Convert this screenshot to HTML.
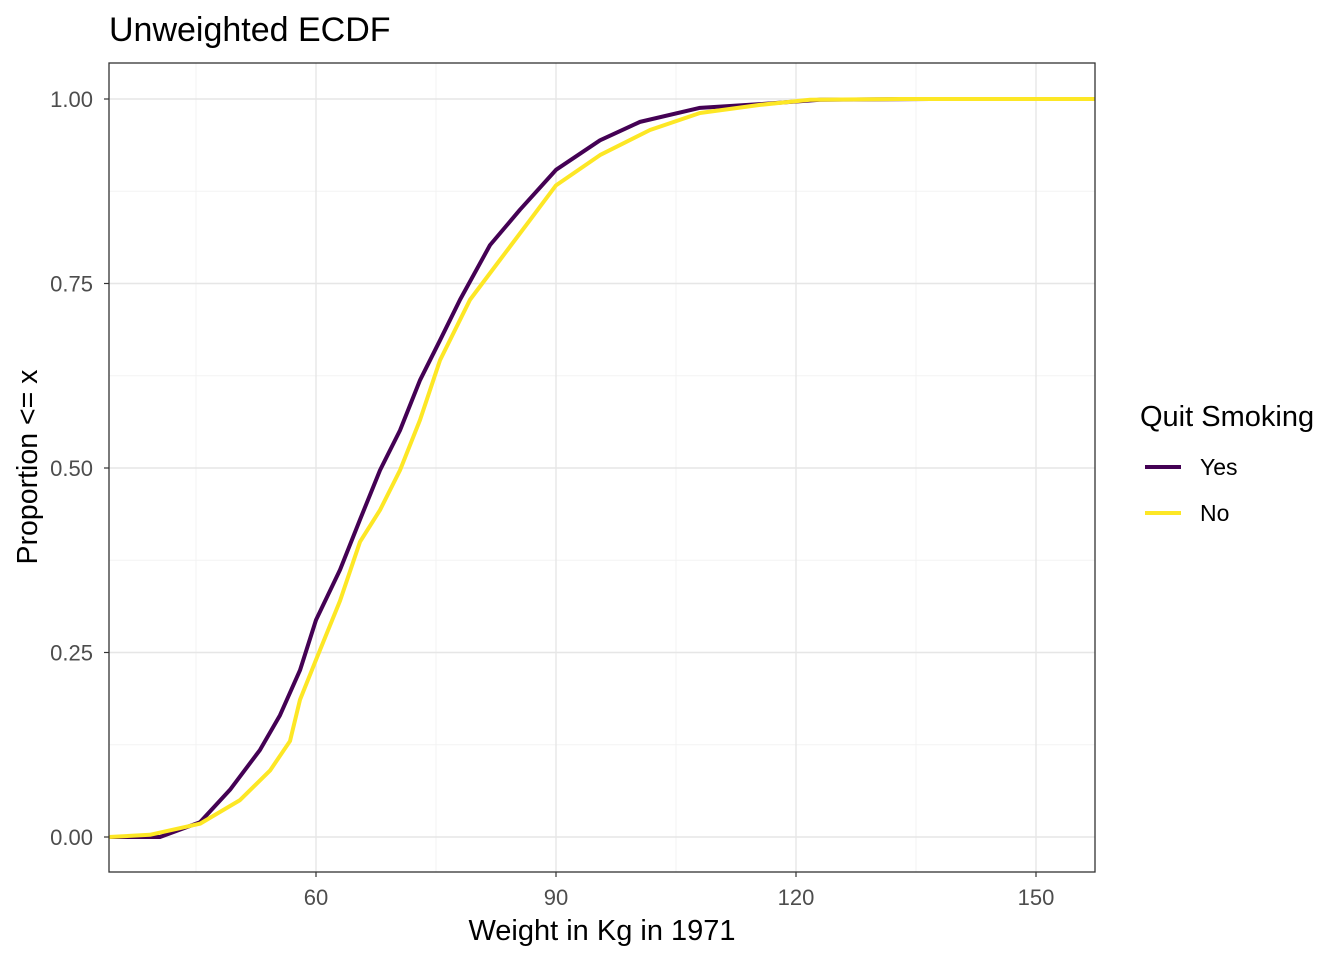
<!DOCTYPE html>
<html><head><meta charset="utf-8"><style>
body{margin:0;background:#fff;font-family:"Liberation Sans",Arial,sans-serif}
</style></head><body>
<svg id="chart" width="1344" height="960" xmlns="http://www.w3.org/2000/svg" font-family="Liberation Sans, Arial, sans-serif">
<text x="109" y="41" font-size="34" fill="#000">Unweighted ECDF</text>
<g id="grid"></g>
<g id="series"></g>
<rect x="109" y="63" width="986" height="809" fill="none" stroke="#333" stroke-width="1.3"/>
<g id="ticks"></g>
<text x="602" y="940" font-size="29" text-anchor="middle" fill="#000">Weight in Kg in 1971</text>
<text transform="translate(37,467) rotate(-90)" font-size="28.5" text-anchor="middle" fill="#000">Proportion &lt;= x</text>
<g>
<text x="1140" y="426" font-size="29" fill="#000">Quit Smoking</text>
<g><line x1="1145" y1="467" x2="1181" y2="467" stroke="#440154" stroke-width="4"/><text x="1200" y="475" font-size="23" fill="#000">Yes</text></g>
<g><line x1="1145" y1="513" x2="1181" y2="513" stroke="#FDE725" stroke-width="4"/><text x="1200" y="521" font-size="23" fill="#000">No</text></g>
</g>
</svg>
<script>
const xTicks=[60,90,120,150];
const xMinor=[45,75,105,135];
const yTicks=[0,0.25,0.5,0.75,1];
const yTickLabels=["0.00","0.25","0.50","0.75","1.00"];
const yMinor=[0.125,0.375,0.625,0.875];
const yesWeights=[40.5,45.5,49.25,53,55.5,58,60,63,65.5,68,70.5,73,75.5,78,81.75,85.5,90,95.5,100.5,108,115.5,123,136.75];
const yesProps=[0,0.02,0.064,0.118,0.165,0.226,0.294,0.362,0.43,0.497,0.551,0.619,0.673,0.728,0.802,0.85,0.904,0.944,0.969,0.988,0.993,0.999,1];
const noWeights=[39.25,45.5,50.5,54.25,56.75,58,60,63,65.5,68,70.5,73,75.5,79.25,83,86.75,90,95.5,101.75,108,115.5,121.75,133];
const noProps=[0.003,0.018,0.05,0.09,0.13,0.186,0.24,0.32,0.4,0.443,0.497,0.565,0.646,0.728,0.782,0.836,0.883,0.924,0.958,0.981,0.992,0.999,1];
const X0=109,X1=1095,Y0=63,Y1=872;
const xs=v=>316+(v-60)*8;
const ys=p=>837-p*738;
const NS="http://www.w3.org/2000/svg";
const grid=document.getElementById('grid'),ticks=document.getElementById('ticks'),series=document.getElementById('series');
function ln(parent,x1,y1,x2,y2,stroke,w){const l=document.createElementNS(NS,'line');l.setAttribute('x1',x1);l.setAttribute('y1',y1);l.setAttribute('x2',x2);l.setAttribute('y2',y2);l.setAttribute('stroke',stroke);l.setAttribute('stroke-width',w);parent.appendChild(l);return l;}
function tx(parent,x,y,s,anchor){const t=document.createElementNS(NS,'text');t.setAttribute('x',x);t.setAttribute('y',y);t.setAttribute('font-size','22');t.setAttribute('fill','#4d4d4d');t.setAttribute('text-anchor',anchor);t.textContent=s;parent.appendChild(t);return t;}
yMinor.forEach(v=>{const l=ln(grid,X0,ys(v),X1,ys(v),'#f3f3f3',1);

});
xMinor.forEach(v=>{const l=ln(grid,xs(v),Y0,xs(v),Y1,'#f3f3f3',1);

});
yTicks.forEach((v,i)=>{const l=ln(grid,X0,ys(v),X1,ys(v),'#e6e6e6',1.4);


ln(ticks,X0-5,ys(v),X0,ys(v),'#333',1.2);
const t=tx(ticks,X0-16,ys(v)+8,yTickLabels[i],'end');

});
xTicks.forEach(v=>{const l=ln(grid,xs(v),Y0,xs(v),Y1,'#e6e6e6',1.4);


ln(ticks,xs(v),Y1,xs(v),Y1+5,'#333',1.2);
const t=tx(ticks,xs(v),Y1+33,String(v),'middle');

});
function drawSeries(ws,ps,color,name){
  let pts=[[X0,ys(0)],[xs(ws[0]),ys(ps[0])]];
  for(let i=1;i<ws.length;i++){pts.push([xs(ws[i]),ys(ps[i])]);}
  pts.push([X1,ys(ps[ps.length-1])]);
  const p=document.createElementNS(NS,'polyline');
  p.setAttribute('points',pts.map(a=>a.join(',')).join(' '));
  p.setAttribute('fill','none');p.setAttribute('stroke',color);p.setAttribute('stroke-width','4');p.setAttribute('stroke-linejoin','round');
  
  
  series.appendChild(p);
}
drawSeries(yesWeights,yesProps,'#440154','ecdf-line-yes');
drawSeries(noWeights,noProps,'#FDE725','ecdf-line-no');
</script>
</body></html>
